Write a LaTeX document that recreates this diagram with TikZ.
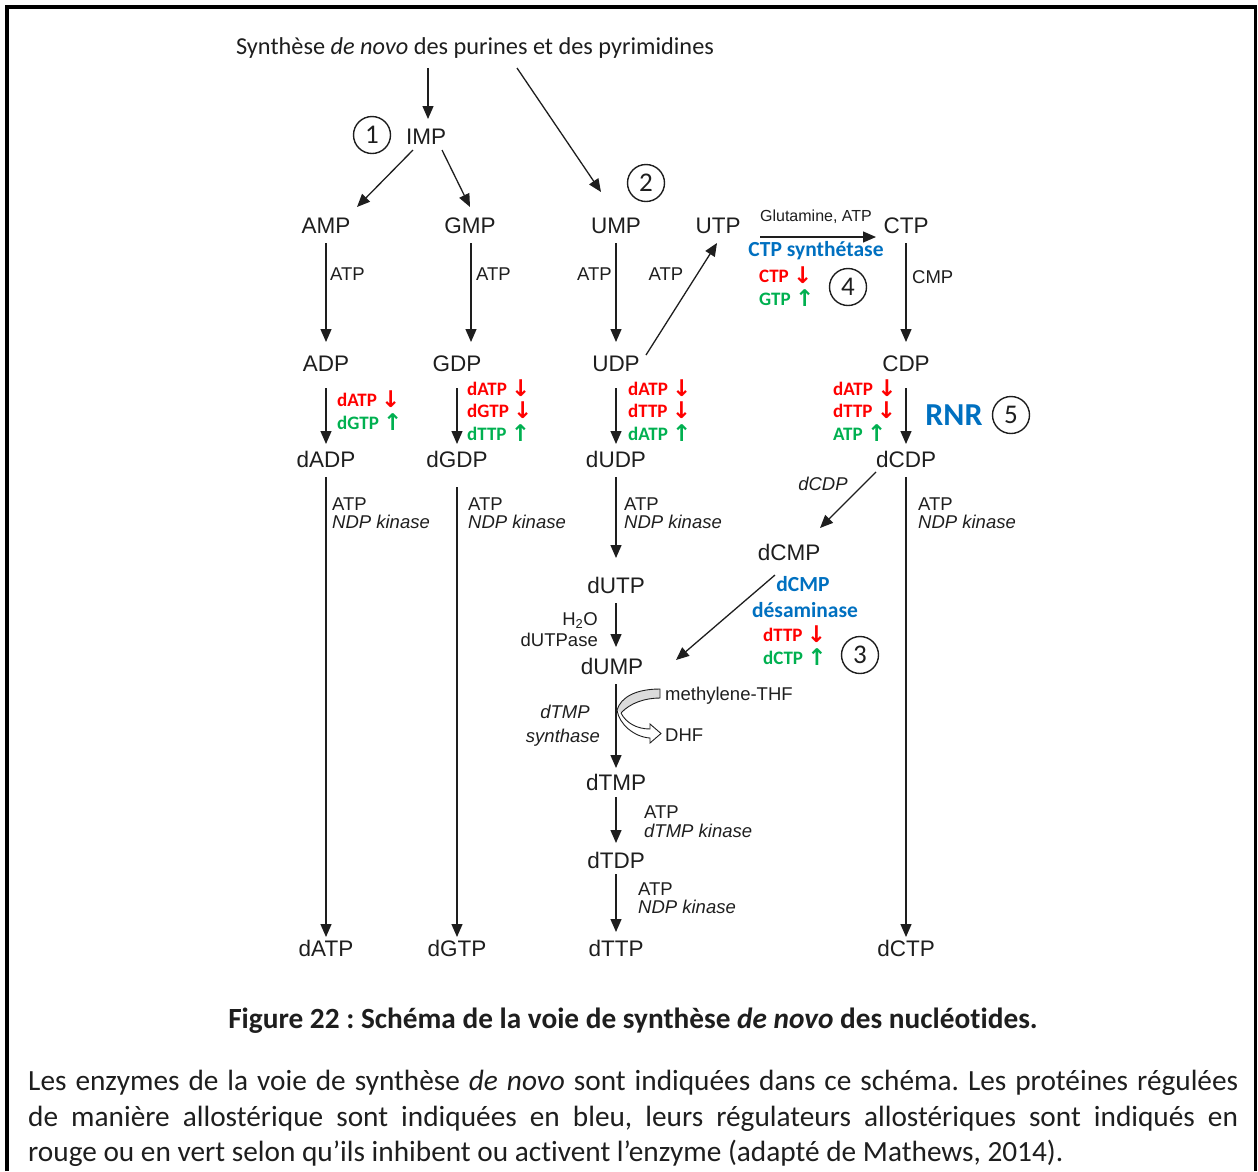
\documentclass[tikz,border=0pt]{standalone}
\usepackage{fontspec}
\setmainfont{Carlito}[Ligatures=NoCommon]
\newfontfamily\arialf{Liberation Sans}
\newfontfamily\symf{DejaVu Sans}
\usetikzlibrary{arrows.meta,calc}
\definecolor{inhib}{RGB}{255,0,0}
\definecolor{activ}{RGB}{0,176,80}
\definecolor{enz}{RGB}{0,112,192}
\definecolor{ink}{RGB}{30,30,30}
\newcommand{\arrdn}{\raisebox{-1.5pt}{\symf\fontsize{23}{23}\selectfont\char"2193}}
\newcommand{\arrup}{\raisebox{-1.5pt}{\symf\fontsize{23}{23}\selectfont\char"2191}}
\frenchspacing
\begin{document}
\begin{tikzpicture}[x=1pt,y=-1pt,
  every node/.style={inner sep=0pt, text=ink},
  met/.style={font=\arialf\fontsize{22.5}{24}\selectfont, text height=16.1pt, text depth=0pt},
  lbl/.style={font=\arialf\fontsize{18.5}{20}\selectfont, text height=13.2pt, text depth=0pt},
  ilbl/.style={font=\arialf\itshape\fontsize{18.5}{20}\selectfont, text height=13.2pt, text depth=0pt},
  reg/.style={font=\bfseries\fontsize{19}{20}\selectfont, text height=12.2pt, text depth=0pt, anchor=west},
  enzlbl/.style={font=\bfseries\fontsize{21.5}{24}\selectfont, text=enz, text height=13.8pt, text depth=0pt},
  numc/.style={circle, draw=ink, line width=1.4pt, minimum size=37pt, font=\fontsize{27}{27}\selectfont, text height=17pt, text depth=0pt},
  arr/.style={draw=ink, line width=1.3pt, -{Triangle[length=13pt,width=11pt]}},
  para/.style={anchor=west, font=\fontsize{29.3}{32}\selectfont, text height=18.9pt, text depth=0pt}
]
\useasboundingbox (0,0) rectangle (1258,1171);
% frame
\draw[black, line width=3.8pt] (7,1171) -- (7,7) -- (1255.5,7) -- (1255.5,1171);

% source text
\node[font=\fontsize{24.3}{26}\selectfont, text height=15.6pt, text depth=0pt] (src) at (475,47) {Synthèse \textit{de novo} des purines et des pyrimidines};

% metabolites
\node[met] (IMP) at (426,136) {IMP};
\node[met] (AMP) at (326,225) {AMP};
\node[met] (GMP) at (470,225) {GMP};
\node[met] (UMP) at (616,225) {UMP};
\node[met] (UTP) at (718,225) {UTP};
\node[met] (CTP) at (906,225) {CTP};
\node[met] (ADP) at (326,363) {ADP};
\node[met] (GDP) at (457,363) {GDP};
\node[met] (UDP) at (616,363) {UDP};
\node[met] (CDP) at (906,363) {CDP};
\node[met] (dADP) at (326,459) {dADP};
\node[met] (dGDP) at (457,459) {dGDP};
\node[met] (dUDP) at (616,459) {dUDP};
\node[met] (dCDP) at (906,459) {dCDP};
\node[met] (dCMP) at (789,552) {dCMP};
\node[met] (dUTP) at (616,585) {dUTP};
\node[met] (dUMP) at (612,666) {dUMP};
\node[met] (dTMP) at (616,782) {dTMP};
\node[met] (dTDP) at (616,860) {dTDP};
\node[met] (dATP) at (326,948) {dATP};
\node[met] (dGTP) at (457,948) {dGTP};
\node[met] (dTTP) at (616,948) {dTTP};
\node[met] (dCTP) at (906,948) {dCTP};

% step numbers
\node[numc] (n1) at (372,135) {1};
\node[numc] (n2) at (646,183) {2};
\node[numc] (n4) at (848,287) {4};
\node[numc] (n5) at (1011,415) {5};
\node[numc] (n3) at (860,655) {3};

% connectors
\draw[arr] ($(src.center)+(-47,21)$) -- ($(IMP.center)+(2,-17)$);
\draw[arr] ($(src.center)+(42,21)$) -- ($(UMP.center)+(-15,-33)$);
\draw[arr] ($(IMP.center)+(-13,14)$) -- ($(AMP.center)+(31,-18)$);
\draw[arr] ($(IMP.center)+(16,14)$) -- ($(GMP.center)+(0,-18)$);
\draw[arr] ($(AMP.center)+(0,18)$) -- ($(ADP.center)+(0,-21)$);
\draw[arr] ($(GMP.center)+(1,18)$) -- ($(GDP.center)+(14,-21)$);
\draw[arr] ($(UMP.center)+(0,18)$) -- ($(UDP.center)+(0,-21)$);
\draw[arr] ($(UDP.center)+(30,-8)$) -- ($(UTP.center)+(-1,18)$);
\draw[arr] ($(UTP.center)+(42,12)$) -- ($(CTP.center)+(-30,12)$);
\draw[arr] ($(CTP.center)+(0,18)$) -- ($(CDP.center)+(0,-21)$);
\draw[arr] ($(ADP.center)+(0,25)$) -- ($(dADP.center)+(0,-15)$);
\draw[arr] ($(GDP.center)+(0,25)$) -- ($(dGDP.center)+(0,-15)$);
\draw[arr] ($(UDP.center)+(0,25)$) -- ($(dUDP.center)+(0,-15)$);
\draw[arr] ($(CDP.center)+(0,25)$) -- ($(dCDP.center)+(0,-15)$);
\draw[arr] ($(dADP.center)+(0,18)$) -- ($(dATP.center)+(0,-11)$);
\draw[arr] ($(dGDP.center)+(0,28)$) -- ($(dGTP.center)+(0,-11)$);
\draw[arr] ($(dUDP.center)+(0,18)$) -- ($(dUTP.center)+(0,-27)$);
\draw[arr] ($(dCDP.center)+(0,18)$) -- ($(dCTP.center)+(0,-11)$);
\draw[arr] ($(dCDP.center)+(-30,13)$) -- ($(dCMP.center)+(31,-24)$);
\draw[arr] ($(dUTP.center)+(0,18)$) -- ($(dUMP.center)+(4,-19)$);
\draw[arr] ($(dCMP.center)+(-14,23)$) -- ($(dUMP.center)+(64,-6)$);
\draw[arr] ($(dUMP.center)+(4,18)$) -- ($(dTMP.center)+(0,-14)$);
\draw[arr] ($(dTMP.center)+(0,15)$) -- ($(dTDP.center)+(0,-17)$);
\draw[arr] ($(dTDP.center)+(0,14)$) -- ($(dTTP.center)+(0,-16)$);

% methyl transfer in the thymidylate synthase step
\fill[gray!28] (660,689) .. controls (636,689) and (621,697) .. (617,710) -- (621,713) .. controls (630,703) and (645,698) .. (660,698) -- cycle;
\draw[ink, line width=0.9pt] (617,710) .. controls (621,697) and (636,689) .. (660,689) -- (660,698) .. controls (645,698) and (630,703) .. (621,713);
\draw[ink, line width=0.9pt, fill=white] (617,710) .. controls (619,724) and (634,737) .. (650,738) -- (650,743) -- (661,733.5) -- (650,724) -- (650,729) .. controls (637,729) and (626,723) .. (621,713);

% cofactors and enzymes on the arrows
\node[lbl, anchor=west] (atp1) at (330,274) {ATP};
\node[lbl, anchor=west] (atp2) at (476,274) {ATP};
\node[lbl, anchor=east] (atp3) at (612,274) {ATP};
\node[lbl] (atp4) at (666,274) {ATP};
\node[lbl, anchor=west] (cmp) at (912,277) {CMP};
\node[font=\arialf\fontsize{16}{18}\selectfont, text height=11.5pt, text depth=0pt] (glu) at (816,216) {Glutamine, ATP};

\node[lbl, anchor=west] (k1a) at (332,504) {ATP};
\node[ilbl, anchor=west] (k1b) at (332,522) {NDP kinase};
\node[lbl, anchor=west] (k2a) at (468,504) {ATP};
\node[ilbl, anchor=west] (k2b) at (468,522) {NDP kinase};
\node[lbl, anchor=west] (k3a) at (624,504) {ATP};
\node[ilbl, anchor=west] (k3b) at (624,522) {NDP kinase};
\node[lbl, anchor=west] (k4a) at (918,504) {ATP};
\node[ilbl, anchor=west] (k4b) at (918,522) {NDP kinase};
\node[ilbl] (dcdpl) at (823,484) {dCDP};

\node[lbl, anchor=east] (h2o) at (598,619) {H\textsubscript{2}O};
\node[lbl, anchor=east] (dutpase) at (598,640) {dUTPase};
\node[ilbl] (ts1) at (565,712) {dTMP};
\node[ilbl] (ts2) at (563,736) {synthase};
\node[lbl, anchor=west] (mthf) at (665,694) {methylene-THF};
\node[lbl, anchor=west] (dhf) at (665,735) {DHF};
\node[lbl, anchor=west] (k5a) at (644,812) {ATP};
\node[ilbl, anchor=west] (k5b) at (644,831) {dTMP kinase};
\node[lbl, anchor=west] (k6a) at (638,889) {ATP};
\node[ilbl, anchor=west] (k6b) at (638,907) {NDP kinase};

% allosteric enzymes and their regulators
\node[enzlbl] (ctps) at (816,250) {CTP synthétase};
\node[reg, text=inhib] (r1) at (759,276) {CTP \arrdn};
\node[reg, text=activ] (r2) at (759,299) {GTP \arrup};

\node[reg, text=inhib] (r3) at (337,400) {dATP \arrdn};
\node[reg, text=activ] (r4) at (337,423) {dGTP \arrup};

\node[reg, text=inhib] (r5) at (467,389) {dATP \arrdn};
\node[reg, text=inhib] (r6) at (467,411) {dGTP \arrdn};
\node[reg, text=activ] (r7) at (467,434) {dTTP \arrup};

\node[reg, text=inhib] (r8) at (628,389) {dATP \arrdn};
\node[reg, text=inhib] (r9) at (628,411) {dTTP \arrdn};
\node[reg, text=activ] (r10) at (628,434) {dATP \arrup};

\node[reg, text=inhib] (r11) at (833,389) {dATP \arrdn};
\node[reg, text=inhib] (r12) at (833,411) {dTTP \arrdn};
\node[reg, text=activ] (r13) at (833,434) {ATP \arrup};
\node[font=\bfseries\fontsize{32}{34}\selectfont, text=enz, text height=20.6pt, text depth=0pt] (rnr) at (954,415) {RNR};

\node[enzlbl] (dcd1) at (803,585) {dCMP};
\node[enzlbl] (dcd2) at (805,611) {désaminase};
\node[reg, text=inhib] (r14) at (763,635) {dTTP \arrdn};
\node[reg, text=activ] (r15) at (763,658) {dCTP \arrup};

% caption
\node[font=\bfseries\fontsize{29.3}{32}\selectfont, text height=18.9pt, text depth=0pt] (cap) at (633,1019) {Figure 22 : Schéma de la voie de synthèse \textit{de novo} des nucléotides.};
\node[para] (p1) at (28,1081) {\makebox[1210pt][s]{Les enzymes de la voie de synthèse \textit{de novo} sont indiquées dans ce schéma. Les protéines régulées}};
\node[para] (p2) at (28,1117) {\makebox[1210pt][s]{de manière allostérique sont indiquées en bleu, leurs régulateurs allostériques sont indiqués en}};
\node[para] (p3) at (28,1152) {rouge ou en vert selon qu’ils inhibent ou activent l’enzyme (adapté de Mathews, 2014).};
\end{tikzpicture}
\end{document}
